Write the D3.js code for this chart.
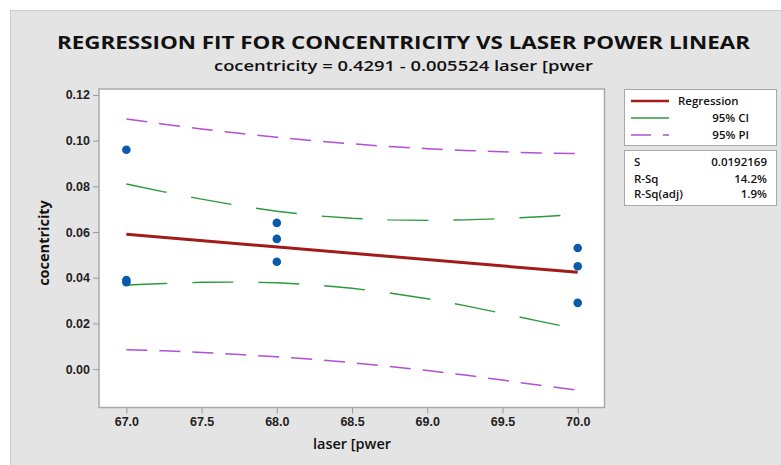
<!DOCTYPE html>
<html><head><meta charset="utf-8">
<script src="https://cdn.jsdelivr.net/npm/d3@7"></script>
<style>
html,body{margin:0;padding:0;background:#fff;}
svg{display:block;font-family:"Open Sans","Noto Sans",sans-serif;}
</style></head>
<body><svg id="c" width="781" height="465"></svg>
<script>
const title = "REGRESSION FIT FOR CONCENTRICITY VS LASER POWER LINEAR";
const subtitle = "cocentricity = 0.4291 - 0.005524 laser [pwer";
const xLabel = "laser [pwer";
const yLabel = "cocentricity";
const xTicks = [67.0, 67.5, 68.0, 68.5, 69.0, 69.5, 70.0];
const yTicks = [0.00, 0.02, 0.04, 0.06, 0.08, 0.10, 0.12];

const pointX = [67, 67, 67, 68, 68, 68, 70, 70, 70];
const pointY = [0.096, 0.039, 0.038, 0.064, 0.057, 0.047, 0.053, 0.045, 0.029];

const fitX = [67, 70];
const fitY = [0.0590, 0.0424];

const bandX   = [67, 67.25, 67.5, 67.75, 68, 68.25, 68.5, 68.75, 69, 69.25, 69.5, 69.75, 70];
const ciUpper = [0.0810, 0.0776, 0.0744, 0.0715, 0.0691, 0.0672, 0.0660, 0.0653, 0.0651, 0.0653, 0.0659, 0.0667, 0.0677];
const ciLower = [0.0368, 0.0375, 0.0380, 0.0381, 0.0378, 0.0369, 0.0354, 0.0333, 0.0308, 0.0278, 0.0244, 0.0209, 0.0175];
const piUpper = [0.1095, 0.1072, 0.1051, 0.1032, 0.1015, 0.0999, 0.0986, 0.0974, 0.0965, 0.0957, 0.0951, 0.0946, 0.0944];
const piLower = [0.0085, 0.0080, 0.0073, 0.0064, 0.0054, 0.0042, 0.0028, 0.0012, -0.0006, -0.0026, -0.0048, -0.0071, -0.0092];

const legendLabels = ["Regression", "95% CI", "95% PI"];
const statNames = ["S", "R-Sq", "R-Sq(adj)"];
const statValues = ["0.0192169", "14.2%", "1.9%"];

const svg = d3.select("#c");
svg.append("rect").attr("x",10.5).attr("y",10.5).attr("width",775).attr("height",460)
  .attr("fill","#e4e4e4").attr("stroke","#cdcdcd");

const L=99, R=604.5, T=89, B=407.5;
const x = d3.scaleLinear().domain([66.818, 70.178]).range([L, R]);
const y = d3.scaleLinear().domain([-0.0168, 0.1226]).range([B, T]);

svg.append("rect").attr("x",L).attr("y",T).attr("width",R-L).attr("height",B-T)
  .attr("fill","#fff").attr("stroke","#a9a9a9").attr("stroke-width",1.5);

const tickCol = "#9a9a9a";
const xa = svg.append("g").attr("transform",`translate(0,${B})`)
  .call(d3.axisBottom(x).tickValues(xTicks).tickFormat(d3.format(".1f")).tickSize(6).tickPadding(4));
const ya = svg.append("g").attr("transform",`translate(${L},0)`)
  .call(d3.axisLeft(y).tickValues(yTicks).tickFormat(d3.format(".2f")).tickSize(6).tickPadding(3));
[xa,ya].forEach(a=>{
  a.select(".domain").remove();
  a.selectAll(".tick line").attr("stroke",tickCol);
  a.selectAll(".tick text").attr("fill","#222").attr("font-size",12.5).attr("font-weight",600);
});

const line = d3.line().x(d=>x(d[0])).y(d=>y(d[1]));
const zipY = (xs, ys) => xs.map((v,i)=>[v, ys[i]]);

const purple="#b34fd3", green="#2a9a3c", red="#a11b1b", blue="#0b5bad";
[piUpper, piLower].forEach(arr=>{
  svg.append("path").attr("d",line(zipY(bandX,arr))).attr("fill","none")
    .attr("stroke",purple).attr("stroke-width",1.5).attr("stroke-dasharray","21,12");
});
[ciUpper, ciLower].forEach(arr=>{
  svg.append("path").attr("d",line(zipY(bandX,arr))).attr("fill","none")
    .attr("stroke",green).attr("stroke-width",1.4).attr("stroke-dasharray","41,25");
});
svg.append("path").attr("d",line(zipY(fitX,fitY))).attr("fill","none")
  .attr("stroke",red).attr("stroke-width",3);

svg.selectAll("circle.pt").data(zipY(pointX,pointY)).enter().append("circle")
  .attr("class","pt").attr("cx",d=>x(d[0])).attr("cy",d=>y(d[1])).attr("r",4.3).attr("fill",blue);

// titles
svg.append("text").attr("x",403.5).attr("y",49).attr("text-anchor","middle")
  .attr("font-size",18.5).attr("font-weight",700).attr("fill","#111")
  .attr("textLength",693).attr("lengthAdjust","spacingAndGlyphs").text(title);
svg.append("text").attr("x",403.5).attr("y",71).attr("text-anchor","middle")
  .attr("font-size",14).attr("font-weight",600).attr("fill","#111")
  .attr("textLength",379).attr("lengthAdjust","spacingAndGlyphs").text(subtitle);
svg.append("text").attr("x",352).attr("y",449).attr("text-anchor","middle")
  .attr("font-size",14.5).attr("font-weight",600).attr("fill","#111").text(xLabel);
svg.append("text").attr("transform","translate(49,243) rotate(-90)").attr("text-anchor","middle")
  .attr("font-size",14.5).attr("font-weight",700).attr("fill","#111").text(yLabel);

// legend
svg.append("rect").attr("x",624.5).attr("y",89.5).attr("width",152).attr("height",56)
  .attr("fill","#fff").attr("stroke","#a9a9a9");
const legY=[101,118,135];
const lg = svg.append("g");
lg.append("line").attr("x1",631).attr("x2",669).attr("y1",legY[0]).attr("y2",legY[0]).attr("stroke",red).attr("stroke-width",2.5);
lg.append("line").attr("x1",631).attr("x2",669).attr("y1",legY[1]).attr("y2",legY[1]).attr("stroke",green).attr("stroke-width",1.4);
lg.append("line").attr("x1",631).attr("x2",669).attr("y1",legY[2]).attr("y2",legY[2]).attr("stroke",purple).attr("stroke-width",1.5).attr("stroke-dasharray","20,12");
legendLabels.forEach((t,i)=>{
  lg.append("text").attr("x", i===0?678:749).attr("y",legY[i]+4).attr("text-anchor", i===0?"start":"end")
    .attr("font-size",11.5).attr("font-weight",600).attr("fill","#111").text(t);
});

// stats
svg.append("rect").attr("x",624.5).attr("y",150.5).attr("width",152).attr("height",55)
  .attr("fill","#fff").attr("stroke","#a9a9a9");
const stY=[162,179,193.5];
statNames.forEach((t,i)=>{
  svg.append("text").attr("x",634).attr("y",stY[i]+4).attr("font-size",11.5).attr("font-weight",600).attr("fill","#111").text(t);
  svg.append("text").attr("x",767).attr("y",stY[i]+4).attr("text-anchor","end").attr("font-size",11.5).attr("font-weight",600).attr("fill","#111").text(statValues[i]);
});
</script></body></html>
